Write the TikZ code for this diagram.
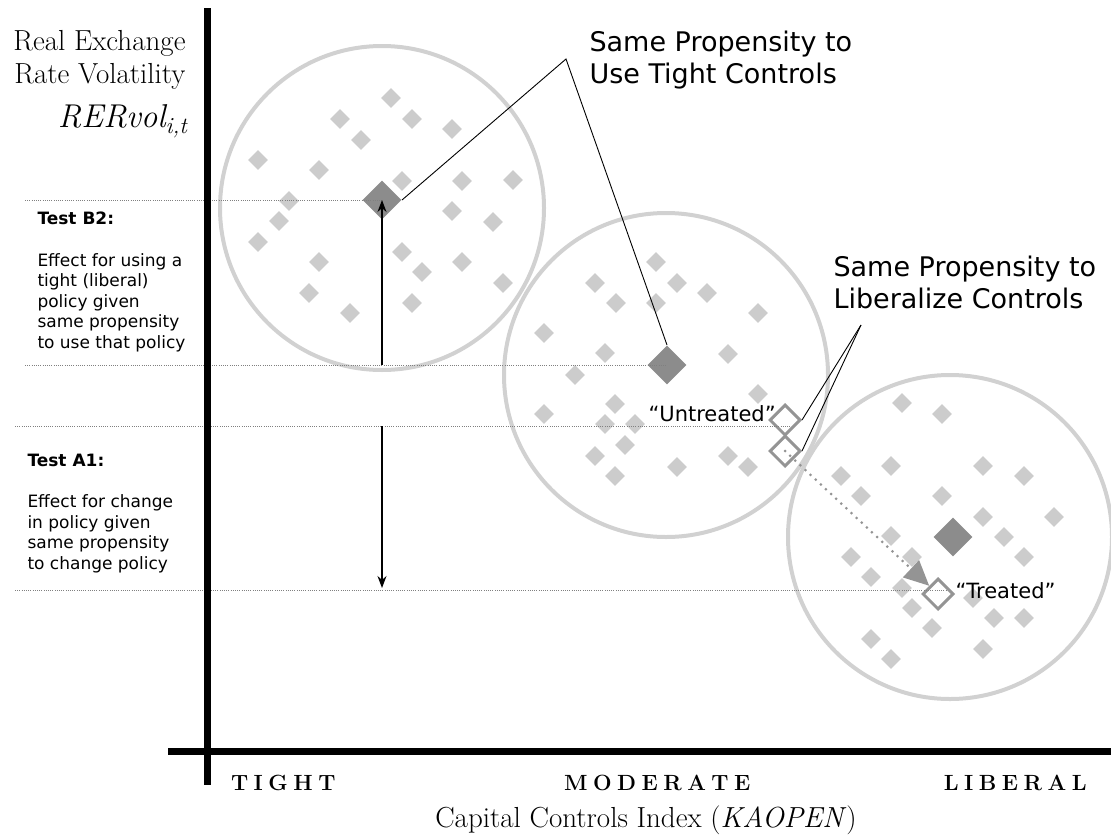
\documentclass[tikz,border=0pt]{standalone}
\usepackage{fontspec}
\usetikzlibrary{shapes.geometric,arrows.meta}
\newfontfamily\verdana{DejaVu Sans}
% spread capitals apart: \letterspread WORD\relax
\def\letterspread#1{\ifx#1\relax\else#1\kern5.5pt\expandafter\letterspread\fi}

\begin{document}
\begin{tikzpicture}[x = 1pt, y = -1pt, line width = 1pt,
      ring/.style = {circle, draw = black!18, line width = 4pt, minimum size = 324pt, inner sep = 0},
      pale/.style = {diamond, fill = black!20, inner sep = 0, minimum size = 20pt},
      dark/.style = {diamond, fill = black!45, inner sep = 0, minimum size = 39pt},
      open/.style = {diamond, draw = black!42, line width = 3pt, inner sep = 0, minimum size = 31pt},
      guide/.style = {draw = black!50, line width = 0.8pt, dash pattern = on 1pt off 1.2pt},
      treat/.style = {draw = black!42, line width = 3pt, line cap = round, dash pattern = on 0pt off 7pt,
                      -{Triangle[length = 25pt, width = 23pt, fill = black!42]}},
      test/.style = {-{Stealth[length = 12pt, width = 9pt]}, line width = 1.2pt},
      callout/.style = {line width = 0.9pt},
      axis/.style = {line width = 7pt},
      side/.style = {anchor = north west, align = left, inner sep = 0, font = \verdana\fontsize{17}{20.5}\selectfont},
      big/.style = {anchor = north west, align = left, inner sep = 0, font = \verdana\fontsize{27}{32}\selectfont},
      tag/.style = {anchor = base west, inner sep = 0, font = \verdana\fontsize{21}{25}\selectfont},
      level/.style = {anchor = base, inner sep = 0, font = \fontsize{22}{26}\selectfont\bfseries}]
      \useasboundingbox (0, 0) rectangle (1111, 838);

      % three propensity groups
      \node [ring] (c1) at (382, 208){};
      \node [ring] (c2) at (666, 375){};
      \node [ring] (c3) at (950, 537){};

      \foreach \p [count = \i] in {(391,98), (340,119), (412,119), (361,140), (452,129), (258,160), (319,170),
          (402,181), (462,181), (513,180), (289,201), (279,221), (452,211), (493,222), (258,242), (402,252),
          (319,262), (462,262), (422,272), (503,283), (309,293), (412,303), (350,313)}
        \node [pale] (p\i) at \p {};
      \foreach \p [count = \i] in {(656,262), (595,283), (677,283), (707,293), (616,303), (656,303), (758,313),
          (544,333), (605,353), (728,354), (575,375), (758,394), (615,404), (544,414), (605,424), (635,424),
          (625,445), (595,456), (677,467), (728,456), (748,467), (615,476)}
        \node [pale] (q\i) at \p {};
      \foreach \p [count = \i] in {(902,403), (942,414), (891,466), (983,466), (841,476), (1024,476), (861,496),
          (942,496), (983,517), (1054,517), (891,536), (1004,537), (851,557), (912,557), (1024,557), (871,577),
          (902,588), (973,598), (912,608), (994,618), (1024,618), (932,628), (871,639), (983,649), (891,659)}
        \node [pale] (r\i) at \p {};

      \node [dark] (m1) at (382, 200){};
      \node [dark] (m2) at (667, 365){};
      \node [dark] (m3) at (953, 537){};

      \node [open] (u1) at (785, 420){};
      \node [open] (u2) at (785, 451){};
      \node [open] (t) at (938, 594){};

      % levels
      \coordinate (g1) at (25, 200);
      \coordinate (g2) at (25, 365);
      \coordinate (g3) at (15, 426);
      \coordinate (g3e) at (790, 426);
      \coordinate (g4) at (15, 590);
      \coordinate (g4e) at (947, 590);
      \draw [guide] (g1) -- (m1.center);
      \draw [guide] (g2) -- (m2.center);
      \draw [guide] (g3) -- (g3e);
      \draw [guide] (g4) -- (g4e);

      \coordinate (b2) at (382, 365);
      \coordinate (a1s) at (382, 426);
      \coordinate (a1e) at (382, 588);
      \draw [test] (b2) -- (m1.center);
      \draw [test] (a1s) -- (a1e);

      \draw [treat] (u2.center) -- (t);

      % callouts
      \coordinate (k1) at (566, 59);
      \coordinate (k2) at (861, 325);
      \draw [callout] (m1.east) -- (k1) -- (m2.north);
      \draw [callout] (k2) -- (u1.east);
      \draw [callout] (k2) -- (u2.east);

      \node [big] (tightlbl) at (589, 30){Same Propensity to\\Use Tight Controls};
      \node [big] (liblbl) at (833, 255){Same Propensity to\\Liberalize Controls};
      \node [tag] (untr) at (648, 421){“Untreated”};
      \node [tag] (tr) at (955, 598){“Treated”};

      \node [side] (b2txt) at (37, 211){\bfseries Test B2:\\[21.5pt]Effect for using a\\tight (liberal)\\policy given\\same propensity\\to use that policy};
      \node [side] (a1txt) at (27, 454){\bfseries Test A1:\\[20.5pt]Effect for change\\in policy given\\same propensity\\to change policy};

      % axes
      \coordinate (ytop) at (207, 8);
      \coordinate (ybot) at (207, 785);
      \coordinate (xl) at (168, 751);
      \coordinate (xr) at (1111, 751);
      \draw [axis] (ytop) -- (ybot);
      \draw [axis] (xl) -- (xr);

      \node [anchor = north east, align = right, inner sep = 0, font = \fontsize{29}{33}\selectfont] (ytitle) at (186, 30){Real Exchange\\Rate Volatility};
      \node [anchor = base east, inner sep = 0, font = \fontsize{33}{38}\selectfont\itshape] (yvar) at (188, 127){RERvol\textsubscript{\itshape i,t}};

      \node [level] (tight) at (286, 790){\letterspread TIGHT\relax};
      \node [level] (moderate) at (660, 790){\letterspread MODERATE\relax};
      \node [level] (liberal) at (1018, 790){\letterspread LIBERAL\relax};
      \node [anchor = base, inner sep = 0, font = \fontsize{29}{33}\selectfont] (xtitle) at (646, 827){Capital Controls Index (\textit{KAOPEN})};
    \end{tikzpicture}
\end{document}
